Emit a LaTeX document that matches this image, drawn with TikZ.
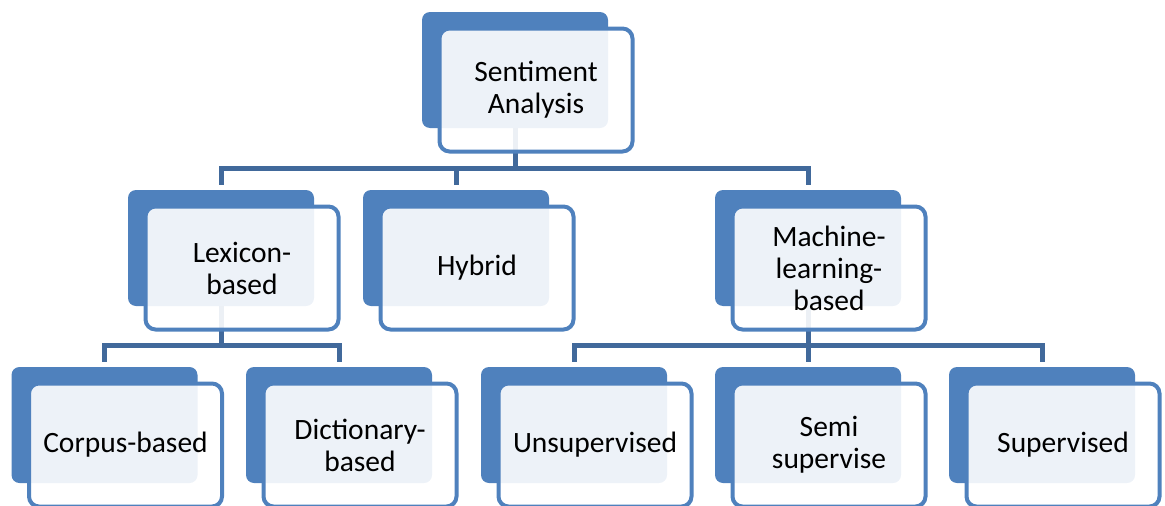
\documentclass[tikz,border=0pt]{standalone}
\usepackage{fontspec}
\setmainfont{Carlito}
\usepackage{xcolor}
\usetikzlibrary{backgrounds}

\definecolor{boxblue}{HTML}{4F81BD}
\definecolor{linkblue}{HTML}{41699B}

\begin{document}
\begin{tikzpicture}[x=1pt, y=-1pt,
        back/.style={fill=boxblue, rounded corners=8pt, minimum width=186pt, minimum height=116pt, inner sep=0pt},
        front/.style={draw=boxblue, line width=4pt, fill=white, fill opacity=0.9, text opacity=1,
            rounded corners=10pt, minimum width=193pt, minimum height=123pt, inner sep=0pt,
            align=center, font=\fontsize{29.5}{32}\selectfont},
        link/.style={draw=linkblue, line width=5pt, shorten >=5pt}]

            \useasboundingbox (0,0) rectangle (1165,506);

            \foreach \n/\x/\y/\txt in {
                0/515/70/{Sentiment\\Analysis},
                1/221/248/{Lexicon-\\based},
                2/456/248/Hybrid,
                3/808/248/{Machine-\\learning-\\based},
                4/104.5/425/Corpus-based,
                5/339/425/{Dictionary-\\based},
                6/574/425/Unsupervised,
                7/808/425/{Semi\\supervise},
                8/1042/425/Supervised}{
                \node[back] (B\n) at (\x,\y) {};
                \node[front] (F\n) at ([xshift=21pt, yshift=-20pt]B\n.center) {\txt};
            }

            \begin{scope}[on background layer]
                \draw[link] (B0.south) |- ([yshift=21pt]B1.north) -- (B1.north);
                \draw[link] (B0.south) |- ([yshift=21pt]B2.north) -- (B2.north);
                \draw[link] (B0.south) |- ([yshift=21pt]B3.north) -- (B3.north);
                \draw[link] (B1.south) |- ([yshift=21pt]B4.north) -- (B4.north);
                \draw[link] (B1.south) |- ([yshift=21pt]B5.north) -- (B5.north);
                \draw[link] (B3.south) |- ([yshift=21pt]B6.north) -- (B6.north);
                \draw[link] (B3.south) |- ([yshift=21pt]B7.north) -- (B7.north);
                \draw[link] (B3.south) |- ([yshift=21pt]B8.north) -- (B8.north);
            \end{scope}

        \end{tikzpicture}
\end{document}
